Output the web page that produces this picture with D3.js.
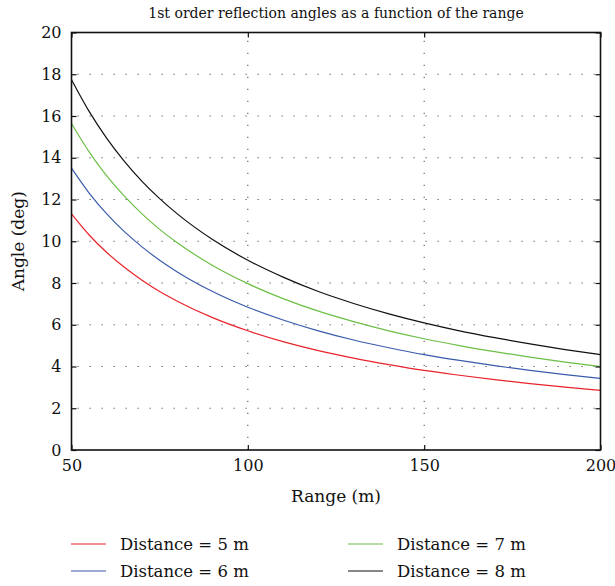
<!DOCTYPE html>
<html>
<head>
<meta charset="utf-8">
<script src="https://cdn.jsdelivr.net/npm/d3@7"></script>
<style>
  body { margin: 0; background: #fff; }
  svg { display: block; }
</style>
</head>
<body>
<svg id="chart" width="615" height="586"></svg>
<script>
// Range values (m) at which each curve is sampled
const ranges = [50, 55, 60, 65, 70, 75, 80, 90, 100, 110, 120, 130, 140, 150, 160, 170, 180, 190, 200];

// Reflection angle (deg) for each wall distance
const angles5m = [11.31, 10.30, 9.46, 8.75, 8.13, 7.59, 7.13, 6.34, 5.71, 5.19, 4.76, 4.40, 4.09, 3.81, 3.58, 3.37, 3.18, 3.01, 2.86];
const angles6m = [13.50, 12.31, 11.31, 10.46, 9.73, 9.09, 8.53, 7.59, 6.84, 6.23, 5.71, 5.27, 4.90, 4.57, 4.29, 4.04, 3.81, 3.61, 3.43];
const angles7m = [15.64, 14.28, 13.13, 12.16, 11.31, 10.57, 9.93, 8.84, 7.97, 7.25, 6.65, 6.15, 5.71, 5.33, 5.00, 4.71, 4.45, 4.21, 4.00];
const angles8m = [17.74, 16.22, 14.93, 13.83, 12.87, 12.04, 11.31, 10.08, 9.09, 8.28, 7.59, 7.02, 6.52, 6.09, 5.71, 5.38, 5.08, 4.81, 4.57];

const seriesNames = ["Distance = 5 m", "Distance = 6 m", "Distance = 7 m", "Distance = 8 m"];
const seriesColors = ["#e8232b", "#3a5bab", "#6cbf45", "#111111"];

const xTicks = [50, 100, 150, 200];
const yTicks = [0, 2, 4, 6, 8, 10, 12, 14, 16, 18, 20];

const titleText = "1st order reflection angles as a function of the range";
const xLabel = "Range (m)";
const yLabel = "Angle (deg)";

const FONT = "'DejaVu Serif', 'Liberation Serif', serif";

const series = [angles5m, angles6m, angles7m, angles8m].map((vals, i) => ({
  name: seriesNames[i],
  color: seriesColors[i],
  points: ranges.map((r, j) => [r, vals[j]])
}));

const svg = d3.select("#chart");
const plot = { left: 71.5, right: 600.5, top: 32.5, bottom: 450 };

const x = d3.scaleLinear().domain([50, 200]).range([plot.left, plot.right]);
const y = d3.scaleLinear().domain([0, 20]).range([plot.bottom, plot.top]);

// Dotted grid
const grid = svg.append("g").attr("stroke", "#555").attr("stroke-width", 1.1)
  .attr("stroke-dasharray", "1.2,10.8");
grid.selectAll("line.h").data(yTicks.slice(1, -1)).join("line")
  .attr("x1", plot.left + 6).attr("x2", plot.right)
  .attr("y1", d => y(d)).attr("y2", d => y(d));
grid.selectAll("line.v").data(xTicks.slice(1, -1)).join("line")
  .attr("y1", plot.bottom).attr("y2", plot.top)
  .attr("x1", d => x(d)).attr("x2", d => x(d));

// Curves
const line = d3.line().x(d => x(d[0])).y(d => y(d[1])).curve(d3.curveMonotoneX);
svg.append("g").selectAll("path").data(series).join("path")
  .attr("fill", "none")
  .attr("stroke", d => d.color)
  .attr("stroke-width", 1.2)
  .attr("d", d => line(d.points));

// Axes with inward ticks
const yAxisL = d3.axisLeft(y).tickValues(yTicks).tickSize(-5).tickPadding(10).tickFormat(d3.format("d"));
const yAxisR = d3.axisRight(y).tickValues(yTicks).tickSize(-5).tickFormat("");
const xAxisB = d3.axisBottom(x).tickValues(xTicks).tickSize(-5).tickPadding(10).tickFormat(d3.format("d"));
const xAxisT = d3.axisTop(x).tickValues(xTicks).tickSize(-5).tickFormat("");

function styleAxis(g) {
  g.attr("font-family", FONT).attr("font-size", 16);
  g.select(".domain").remove();
  g.selectAll(".tick line").attr("stroke", "#111").attr("stroke-width", 1.2);
  g.selectAll(".tick text").attr("fill", "#111");
}
svg.append("g").attr("transform", `translate(${plot.left},0)`).call(yAxisL).call(styleAxis);
svg.append("g").attr("transform", `translate(${plot.right},0)`).call(yAxisR).call(styleAxis);
svg.append("g").attr("transform", `translate(0,${plot.bottom})`).call(xAxisB).call(styleAxis);
svg.append("g").attr("transform", `translate(0,${plot.top})`).call(xAxisT).call(styleAxis);

// Frame
svg.append("rect")
  .attr("x", plot.left).attr("y", plot.top)
  .attr("width", plot.right - plot.left).attr("height", plot.bottom - plot.top)
  .attr("fill", "none").attr("stroke", "#111").attr("stroke-width", 1.6);

// Title and axis labels
const labels = svg.append("g").attr("font-family", FONT).attr("fill", "#111");
labels.append("text").attr("x", (plot.left + plot.right) / 2).attr("y", 18)
  .attr("text-anchor", "middle").attr("font-size", 14).text(titleText);
labels.append("text").attr("x", (plot.left + plot.right) / 2).attr("y", 502)
  .attr("text-anchor", "middle").attr("font-size", 17).text(xLabel);
labels.append("text")
  .attr("transform", `translate(24,${(plot.top + plot.bottom) / 2}) rotate(-90)`)
  .attr("text-anchor", "middle").attr("font-size", 17).text(yLabel);

// Legend: two columns, two rows
const legendPos = [[71, 544], [71, 571], [348, 544], [348, 571]];
const legend = svg.append("g").attr("font-family", FONT).selectAll("g").data(series).join("g")
  .attr("transform", (d, i) => `translate(${legendPos[i][0]},${legendPos[i][1]})`);
legend.append("line").attr("x1", 0).attr("x2", 35).attr("y1", 0).attr("y2", 0)
  .attr("stroke", d => d.color).attr("stroke-width", 1.2);
legend.append("text").attr("x", 49).attr("y", 6).attr("font-size", 16.5).attr("fill", "#111").text(d => d.name);
</script>
</body>
</html>
